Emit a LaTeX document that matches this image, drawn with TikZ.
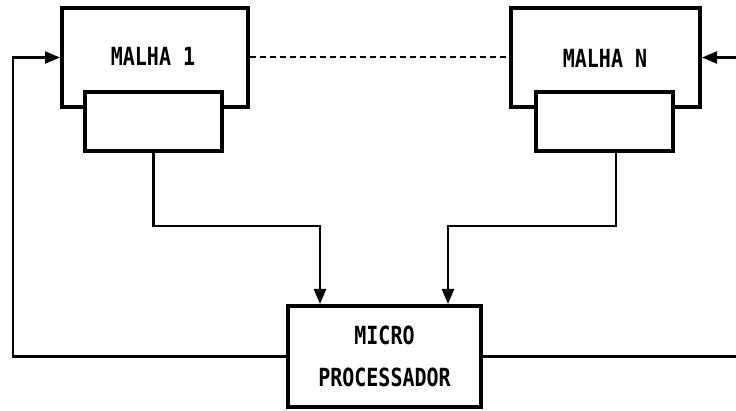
\documentclass[tikz,border=0pt]{standalone}
\usepackage{fontspec}
\newfontfamily\pixfont{DejaVu Sans Mono}
\usetikzlibrary{arrows.meta}
\begin{document}
\begin{tikzpicture}[x=1pt,y=-1pt,
  bigbox/.style={draw,line width=4pt,rectangle,inner sep=0pt,fill=white},
  smallbox/.style={draw,line width=4pt,rectangle,inner sep=0pt,fill=white,minimum width=137pt,minimum height=59pt},
  lbl/.style={font=\pixfont\bfseries\fontsize{20}{22}\selectfont,inner sep=0pt,yscale=1.25},
  conn/.style={line width=2.2pt},
  tip/.style={-{Triangle[length=15pt 0,width=12pt 0]}},
  dashline/.style={line width=2pt,dash pattern=on 6pt off 4pt}]
\useasboundingbox (0,0) rectangle (736,411);
% boxes
\node[bigbox,minimum width=186pt,minimum height=99pt] (m1) at (155,57.5) {};
\node[bigbox,minimum width=189pt,minimum height=99pt] (mN) at (605.5,57.5) {};
\node[smallbox] (s1) at (153.5,121.5) {};
\node[smallbox] (sN) at (604,121.5) {};
\node[bigbox,minimum width=193pt,minimum height=101pt] (mp) at (384.5,356.5) {};
% labels
\node[lbl] (t1) at (153,56) {MALHA 1};
\node[lbl] (tN) at (605,58) {MALHA N};
\node[lbl] (tmp1) at (384.5,335) {MICRO};
\node[lbl] (tmp2) at (384.5,377) {PROCESSADOR};
% coordinates
\coordinate (in1) at (320,304);
\coordinate (inN) at (448,304);
\coordinate (fbL) at (13,0);
\coordinate (edgeR) at (736,0);
% connectors
\draw[dashline] (m1.east) -- (mN.west);
\draw[conn,tip] (s1.south) -- ++(0,73) -| (in1);
\draw[conn,tip] ([xshift=12pt]sN.south) -- ++(0,73) -| (inN);
\draw[conn,tip] (mp.west) -| (fbL |- m1.west) -- (m1.west);
\draw[conn] (mp.east) -- (mp.east -| edgeR);
\draw[conn,tip] (edgeR |- mN.east) -- (mN.east);
\end{tikzpicture}
\end{document}
